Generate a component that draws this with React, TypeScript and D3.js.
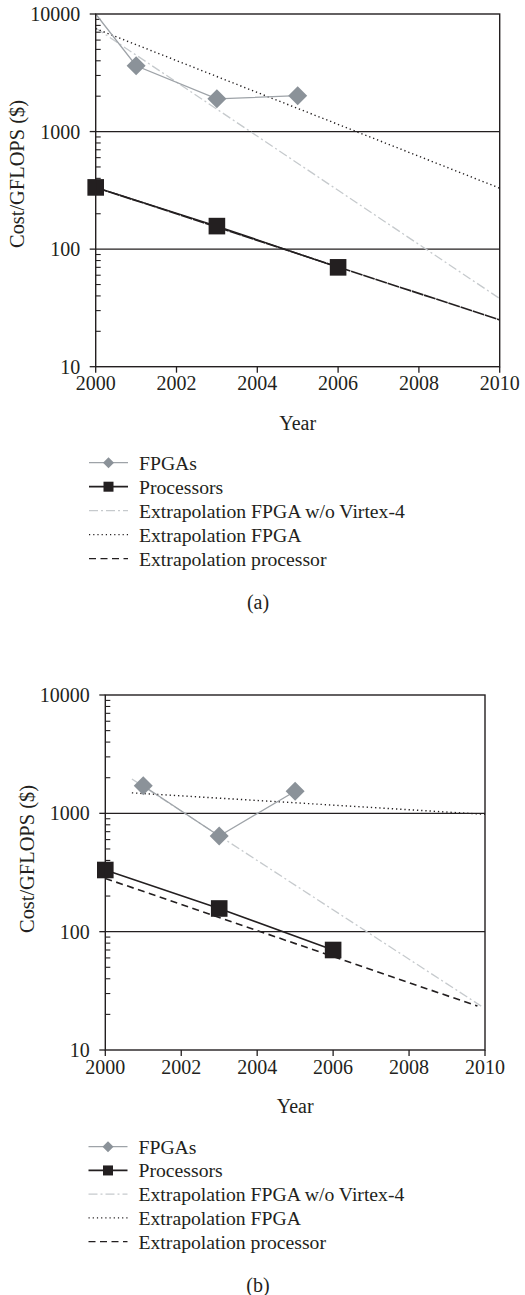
import * as d3 from "d3";
import React, { useEffect, useRef } from "react";

// shared ticks
const yearTicks = [2000, 2002, 2004, 2006, 2008, 2010];
const costTicks = [10, 100, 1000, 10000];

// panel (a)
const fpgaYearsA = [2000, 2001, 2003, 2005];
const fpgaCostA = [10000, 3630, 1900, 2020];
const procYearsA = [2000, 2003, 2006];
const procCostA = [335, 157, 70];
const noV4YearsA = [2000, 2010];
const noV4CostA = [7600, 38];
const extFpgaYearsA = [2000, 2010];
const extFpgaCostA = [7500, 330];
const extProcYearsA = [2000, 2010];
const extProcCostA = [335, 25];

// panel (b)
const fpgaYearsB = [2001, 2003, 2005];
const fpgaCostB = [1710, 643, 1535];
const procYearsB = [2000, 2003, 2006];
const procCostB = [332, 157, 70];
const noV4YearsB = [2000.7, 2009.9];
const noV4CostB = [1950, 23.5];
const extFpgaYearsB = [2000.7, 2010];
const extFpgaCostB = [1490, 980];
const extProcYearsB = [2000, 2009.8];
const extProcCostB = [282, 23.5];

const legendLabels = [
  "FPGAs",
  "Processors",
  "Extrapolation FPGA w/o Virtex-4",
  "Extrapolation FPGA",
  "Extrapolation processor",
];

const FONT = "'Liberation Serif', 'Times New Roman', serif";
const GRAY_LINE = "#9ea3a8";
const GRAY_MARK = "#8b9299";
const LIGHT = "#c6cacd";
const BLACK = "#231f20";

type Series = { x: number[]; y: number[] };

interface PanelCfg {
  caption: string;
  left: number;
  right: number;
  top: number;
  bottom: number;
  yLabelX: number;
  yLabelY: number;
  legendTop: number;
  legendStep: number;
  legendX: number;
  captionY: number;
  fpga: Series;
  fpgaMarkFrom: number;
  proc: Series;
  noV4: Series;
  extFpga: Series;
  extProc: Series;
  procDash: string;
}

const panels: PanelCfg[] = [
  {
    caption: "(a)",
    left: 95.7,
    right: 499.7,
    top: 14,
    bottom: 366.7,
    yLabelX: 17,
    yLabelY: 174,
    legendTop: 462.7,
    legendStep: 24,
    legendX: 89,
    captionY: 602,
    fpga: { x: fpgaYearsA, y: fpgaCostA },
    fpgaMarkFrom: 1,
    proc: { x: procYearsA, y: procCostA },
    noV4: { x: noV4YearsA, y: noV4CostA },
    extFpga: { x: extFpgaYearsA, y: extFpgaCostA },
    extProc: { x: extProcYearsA, y: extProcCostA },
    procDash: "12,0.8",
  },
  {
    caption: "(b)",
    left: 105.3,
    right: 485,
    top: 695,
    bottom: 1050,
    yLabelX: 27,
    yLabelY: 859,
    legendTop: 1146.7,
    legendStep: 23.75,
    legendX: 88.5,
    captionY: 1285,
    fpga: { x: fpgaYearsB, y: fpgaCostB },
    fpgaMarkFrom: 0,
    proc: { x: procYearsB, y: procCostB },
    noV4: { x: noV4YearsB, y: noV4CostB },
    extFpga: { x: extFpgaYearsB, y: extFpgaCostB },
    extProc: { x: extProcYearsB, y: extProcCostB },
    procDash: "7,4.5",
  },
];

const diamond = (cx: number, cy: number, r: number) =>
  `M${cx},${cy - r}L${cx + r},${cy}L${cx},${cy + r}L${cx - r},${cy}Z`;

const App = () => {
  const svgRef = useRef<SVGSVGElement>(null);

  useEffect(() => {
    const svg = d3.select(svgRef.current);
    svg.selectAll("*").remove();

    panels.forEach((p) => {
      const g = svg.append("g");
      const x = d3.scaleLinear().domain([2000, 2010]).range([p.left, p.right]);
      const y = d3.scaleLog().domain([10, 10000]).range([p.bottom, p.top]);

      const line = (s: Series) =>
        d3
          .line<number>()
          .x((_, i) => x(s.x[i]))
          .y((d) => y(d))(s.y) as string;

      // gridlines at inner decades
      g.selectAll("line.grid")
        .data([100, 1000])
        .enter()
        .append("line")
        .attr("x1", p.left)
        .attr("x2", p.right)
        .attr("y1", (d) => y(d))
        .attr("y2", (d) => y(d))
        .attr("stroke", BLACK)
        .attr("stroke-width", 1.3);

      // minor ticks inside
      const minors: number[] = [];
      [10, 100, 1000].forEach((dec) => {
        for (let k = 2; k <= 9; k++) minors.push(dec * k);
      });
      g.selectAll("line.minor")
        .data(minors)
        .enter()
        .append("line")
        .attr("x1", p.left)
        .attr("x2", p.left + 5)
        .attr("y1", (d) => y(d))
        .attr("y2", (d) => y(d))
        .attr("stroke", BLACK)
        .attr("stroke-width", 1.1);

      // major y ticks outside
      g.selectAll("line.major")
        .data(costTicks)
        .enter()
        .append("line")
        .attr("x1", p.left - 6)
        .attr("x2", p.left)
        .attr("y1", (d) => y(d))
        .attr("y2", (d) => y(d))
        .attr("stroke", BLACK)
        .attr("stroke-width", 1.3);

      g.selectAll("text.ytick")
        .data(costTicks)
        .enter()
        .append("text")
        .attr("x", p.left - 15.5)
        .attr("y", (d) => y(d))
        .attr("dy", "0.35em")
        .attr("text-anchor", "end")
        .style("font-family", FONT)
        .style("font-size", "20px")
        .style("fill", BLACK)
        .text((d) => String(d));

      // x ticks
      g.selectAll("line.xtick")
        .data(yearTicks)
        .enter()
        .append("line")
        .attr("x1", (d) => x(d))
        .attr("x2", (d) => x(d))
        .attr("y1", p.bottom)
        .attr("y2", p.bottom + 6)
        .attr("stroke", BLACK)
        .attr("stroke-width", 1.3);

      g.selectAll("text.xtick")
        .data(yearTicks)
        .enter()
        .append("text")
        .attr("x", (d) => x(d))
        .attr("y", p.bottom + 23.5)
        .attr("text-anchor", "middle")
        .style("font-family", FONT)
        .style("font-size", "20px")
        .style("fill", BLACK)
        .text((d) => String(d));

      g.append("text")
        .attr("x", (p.left + p.right) / 2)
        .attr("y", p.bottom + 63)
        .attr("text-anchor", "middle")
        .style("font-family", FONT)
        .style("font-size", "20px")
        .style("fill", BLACK)
        .text("Year");

      g.append("text")
        .attr("transform", `translate(${p.yLabelX},${p.yLabelY}) rotate(-90)`)
        .attr("dy", "0.35em")
        .attr("text-anchor", "middle")
        .style("font-family", FONT)
        .style("font-size", "20.4px")
        .style("fill", BLACK)
        .text("Cost/GFLOPS ($)");

      // series
      g.append("path")
        .attr("d", line(p.noV4))
        .attr("fill", "none")
        .attr("stroke", LIGHT)
        .attr("stroke-width", 1.3)
        .attr("stroke-dasharray", "9,3,2,3");

      g.append("path")
        .attr("d", line(p.extFpga))
        .attr("fill", "none")
        .attr("stroke", BLACK)
        .attr("stroke-width", 1.4)
        .attr("stroke-dasharray", "1.3,2.9");

      g.append("path")
        .attr("d", line(p.extProc))
        .attr("fill", "none")
        .attr("stroke", BLACK)
        .attr("stroke-width", 1.6)
        .attr("stroke-dasharray", p.procDash);

      g.append("path")
        .attr("d", line(p.proc))
        .attr("fill", "none")
        .attr("stroke", BLACK)
        .attr("stroke-width", 1.5);

      g.append("path")
        .attr("d", line(p.fpga))
        .attr("fill", "none")
        .attr("stroke", GRAY_LINE)
        .attr("stroke-width", 1.3);

      g.selectAll("path.dia")
        .data(p.fpga.y.map((v, i) => ({ yr: p.fpga.x[i], v })).slice(p.fpgaMarkFrom))
        .enter()
        .append("path")
        .attr("d", (d) => diamond(x(d.yr), y(d.v), 9.5))
        .attr("fill", GRAY_MARK);

      g.selectAll("rect.sq")
        .data(p.proc.y.map((v, i) => ({ yr: p.proc.x[i], v })))
        .enter()
        .append("rect")
        .attr("x", (d) => x(d.yr) - 8.3)
        .attr("y", (d) => y(d.v) - 8.3)
        .attr("width", 16.6)
        .attr("height", 16.6)
        .attr("fill", BLACK);

      // frame
      g.append("rect")
        .attr("x", p.left)
        .attr("y", p.top)
        .attr("width", p.right - p.left)
        .attr("height", p.bottom - p.top)
        .attr("fill", "none")
        .attr("stroke", BLACK)
        .attr("stroke-width", 1.4);

      // legend
      const lx0 = p.legendX;
      const lx1 = p.legendX + 39;
      const lmid = (lx0 + lx1) / 2;
      const leg = g
        .selectAll("g.leg")
        .data(legendLabels)
        .enter()
        .append("g")
        .attr("transform", (_, i) => `translate(0,${p.legendTop + i * p.legendStep})`);

      leg
        .append("text")
        .attr("x", lx1 + 11)
        .attr("dy", "0.35em")
        .style("font-family", FONT)
        .style("font-size", "19.7px")
        .style("fill", BLACK)
        .text((d) => d);

      const styles = [
        { stroke: GRAY_LINE, w: 1.3, dash: "" },
        { stroke: BLACK, w: 1.8, dash: "" },
        { stroke: LIGHT, w: 1.2, dash: "9,3,2,3" },
        { stroke: BLACK, w: 1.2, dash: "1.2,3" },
        { stroke: BLACK, w: 1.3, dash: "7,4.5" },
      ];
      leg
        .append("line")
        .attr("x1", lx0)
        .attr("x2", lx1)
        .attr("stroke", (_, i) => styles[i].stroke)
        .attr("stroke-width", (_, i) => styles[i].w)
        .attr("stroke-dasharray", (_, i) => styles[i].dash || null);

      leg
        .filter((_, i) => i === 0)
        .append("path")
        .attr("d", diamond(lmid, 0, 5.5))
        .attr("fill", GRAY_MARK);

      leg
        .filter((_, i) => i === 1)
        .append("rect")
        .attr("x", lmid - 5)
        .attr("y", -5)
        .attr("width", 10)
        .attr("height", 10)
        .attr("fill", BLACK);

      svg
        .append("text")
        .attr("x", 258)
        .attr("y", p.captionY)
        .attr("dy", "0.35em")
        .attr("text-anchor", "middle")
        .style("font-family", FONT)
        .style("font-size", "20px")
        .style("fill", BLACK)
        .text(p.caption);
    });
  }, []);

  return (
    <div style={{ position: "absolute", left: 0, top: 0 }}>
      <svg ref={svgRef} width={525} height={1295} style={{ display: "block", background: "#fff" }}></svg>
    </div>
  );
};

export default App;
